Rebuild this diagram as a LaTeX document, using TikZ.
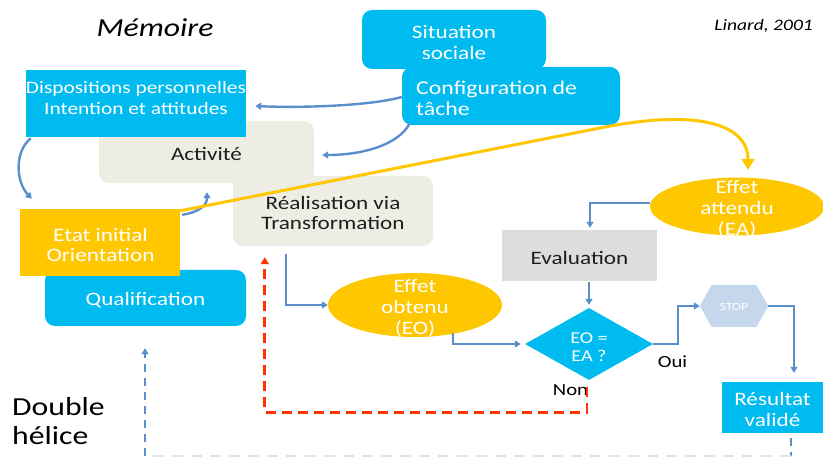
\documentclass[tikz,border=0pt]{standalone}
\usepackage{fontspec}
\setmainfont{Carlito}[FakeStretch=1.22]
\usetikzlibrary{shapes.geometric,arrows.meta,calc}
\definecolor{cyanb}{RGB}{0,187,240}
\definecolor{yel}{RGB}{255,199,0}
\definecolor{actg}{RGB}{238,237,228}
\definecolor{evalg}{RGB}{221,221,221}
\definecolor{lnk}{RGB}{91,143,204}
\definecolor{redd}{RGB}{255,51,0}
\definecolor{stopc}{RGB}{197,215,235}
\definecolor{faintb}{RGB}{218,229,243}
\definecolor{ink}{RGB}{30,30,30}
\newcommand\fsz[2]{\fontsize{#1}{#2}\selectfont}
\begin{document}
\begin{tikzpicture}[x=1pt,y=-1pt,
  box/.style={inner sep=0pt},
  rbox/.style={box, rounded corners=10pt},
  wtxt/.style={text=white, align=center, font=\fsz{19}{20.5}},
  dtxt/.style={text=ink, align=center, font=\fsz{19}{20.5}},
  conn/.style={draw=lnk, line width=2.4pt, -{Triangle[length=6pt,width=7pt]}},
  reddash/.style={draw=redd, line width=2.8pt, dash pattern=on 10pt off 6pt, -{Triangle[length=7pt,width=8pt]}},
  bluedash/.style={draw=lnk, line width=2.4pt, dash pattern=on 8pt off 6pt},
]
\useasboundingbox (0,0) rectangle (823,457);

% grey activity boxes
\node[rbox, fill=actg, minimum width=215, minimum height=62] (act) at (206.5,152) {};
\node[dtxt] (acttxt) at (206.5,154.5) {Activité};
\node[rbox, fill=actg, minimum width=200, minimum height=70] (real) at (333,211) {};
\node[dtxt] (realtxt) at (333,213) {Réalisation via\\Transformation};

% dispositions
\node[box, fill=cyanb, minimum width=220, minimum height=67] (disp) at (136,103.5) {};
\node[text=white, align=center, font=\fsz{17.5}{21}] (disptxt) at (136,98) {Dispositions personnelles\\Intention et attitudes};

% situation / configuration
\node[rbox, fill=cyanb, minimum width=184, minimum height=59] (sit) at (454,39.5) {};
\node[wtxt] (sittxt) at (454,42.5) {Situation\\sociale};
\node[rbox, fill=cyanb, minimum width=218, minimum height=58] (cfg) at (511,96) {};
\node[wtxt, align=left, anchor=west, inner sep=0pt, font=\fsz{19.5}{20.5}] (cfgtxt) at (416,98.5) {Configuration de\\tâche};

% qualification and initial state
\node[rbox, fill=cyanb, minimum width=201, minimum height=56] (qual) at (145.5,298) {};
\node[wtxt] (qualtxt) at (145.5,300.5) {Qualification};
\node[box, fill=yel, minimum width=160, minimum height=67] (etat) at (100,242.5) {};
\node[wtxt] (etattxt) at (100.5,245) {Etat initial\\Orientation};

% effects
\node[ellipse, fill=yel, minimum width=174, minimum height=58, inner sep=0pt] (ea) at (737,206.5) {};
\node[wtxt, font=\fsz{19}{21}] (eatxt) at (737,209) {Effet\\attendu\\(EA)};
\node[ellipse, fill=yel, minimum width=174, minimum height=64, inner sep=0pt] (eo) at (415,305) {};
\node[wtxt, font=\fsz{19}{21}] (eotxt) at (415,308) {Effet\\obtenu\\(EO)};

% evaluation and decision
\node[box, fill=evalg, minimum width=155, minimum height=51] (eval) at (579.5,255.5) {};
\node[dtxt] (evaltxt) at (579.5,258) {Evaluation};
\node[diamond, fill=cyanb, minimum width=128, minimum height=72, inner sep=0pt] (dia) at (589,344) {};
\node[text=white, align=center, font=\fsz{16.5}{17.5}] (diatxt) at (589,347) {EO =\\EA ?};

% stop hexagon
\node[minimum width=68, minimum height=42, inner sep=0pt] (stop) at (734,306) {};
\fill[stopc] (stop.west) -- ([xshift=12pt]stop.north west) -- ([xshift=-12pt]stop.north east) -- (stop.east) -- ([xshift=-12pt]stop.south east) -- ([xshift=12pt]stop.south west) -- cycle;
\node[text=white, font=\fsz{11}{12}] (stoptxt) at (734,307) {STOP};

% result
\node[box, fill=cyanb, minimum width=101, minimum height=51] (res) at (772.5,407.5) {};
\node[wtxt] (restxt) at (772.5,409.5) {Résultat\\validé};

% free texts
\node[font=\itshape\fsz{26}{28}] (mem) at (155,28) {Mémoire};
\node[font=\itshape\fsz{16}{18}, anchor=east, inner sep=0pt] (lin) at (813,26) {Linard, 2001};
\node[font=\fsz{26}{29}, align=left, anchor=west, inner sep=0pt] (dh) at (12,421.5) {Double\\hélice};
\node[font=\fsz{17}{18}] (oui) at (672.5,362) {Oui};
\node[font=\fsz{17}{18}] (non) at (570.5,390) {Non};

% connectors
\draw[conn] ([yshift=-1pt]cfg.west) .. controls (370,106) and (300,108) .. ([xshift=9pt,yshift=-2.5pt]disp.east);
\draw[conn] ([xshift=8pt,yshift=2pt]cfg.south west) .. controls (398,146) and (360,155) .. ([xshift=8pt,yshift=-3pt]act.east);
\draw[conn] ([xshift=5pt,yshift=-1pt]disp.south west) .. controls (14,152) and (16,182) .. ([xshift=12pt,yshift=10pt]etat.north west);
\draw[conn] ([xshift=2pt,yshift=-6pt]etat.north east) .. controls (200,212) and (207,205) .. ([xshift=0.5pt,yshift=-9pt]act.south);

\draw[draw=yel, line width=3pt, -{Triangle[length=11pt,width=13pt]}] ([yshift=-2pt]etat.north east) -- (600,128) .. controls (700,108) and (748,125) .. ([xshift=11pt,yshift=7.5pt]ea.north);

\draw[conn] ([xshift=53pt,yshift=-8pt]real.south west) |- (eo.west);
\draw[conn] ([yshift=3.5pt]ea.west) -| ([xshift=10.5pt,yshift=2pt]eval.north);
\draw[conn] ([xshift=9.5pt,yshift=-1pt]eval.south) -- ([yshift=3pt]dia.north);
\draw[conn] ([xshift=38pt,yshift=4pt]eo.south) |- ([xshift=-4pt]dia.west);
\draw[conn] (dia.east) -- ++(25,0) |- (stop.west);
\draw[conn] (stop.east) -| ([xshift=21.5pt,yshift=9pt]res.north);

\draw[reddash] ([xshift=-2pt,yshift=-7pt]dia.south) -- ++(0,25) -| ([xshift=32pt,yshift=-11pt]real.south west);

\coordinate (b1) at (791,456);
\coordinate (b2) at (145,456);
\draw[bluedash] ([xshift=18.5pt,yshift=-5pt]res.south) -- (b1);
\draw[draw=faintb, line width=2pt, dash pattern=on 11pt off 8pt] (b1) -- (b2);
\draw[bluedash, -{Triangle[length=6pt,width=7pt]}] (b2) -- ([xshift=-0.5pt,yshift=-22pt]qual.south);
\end{tikzpicture}
\end{document}
